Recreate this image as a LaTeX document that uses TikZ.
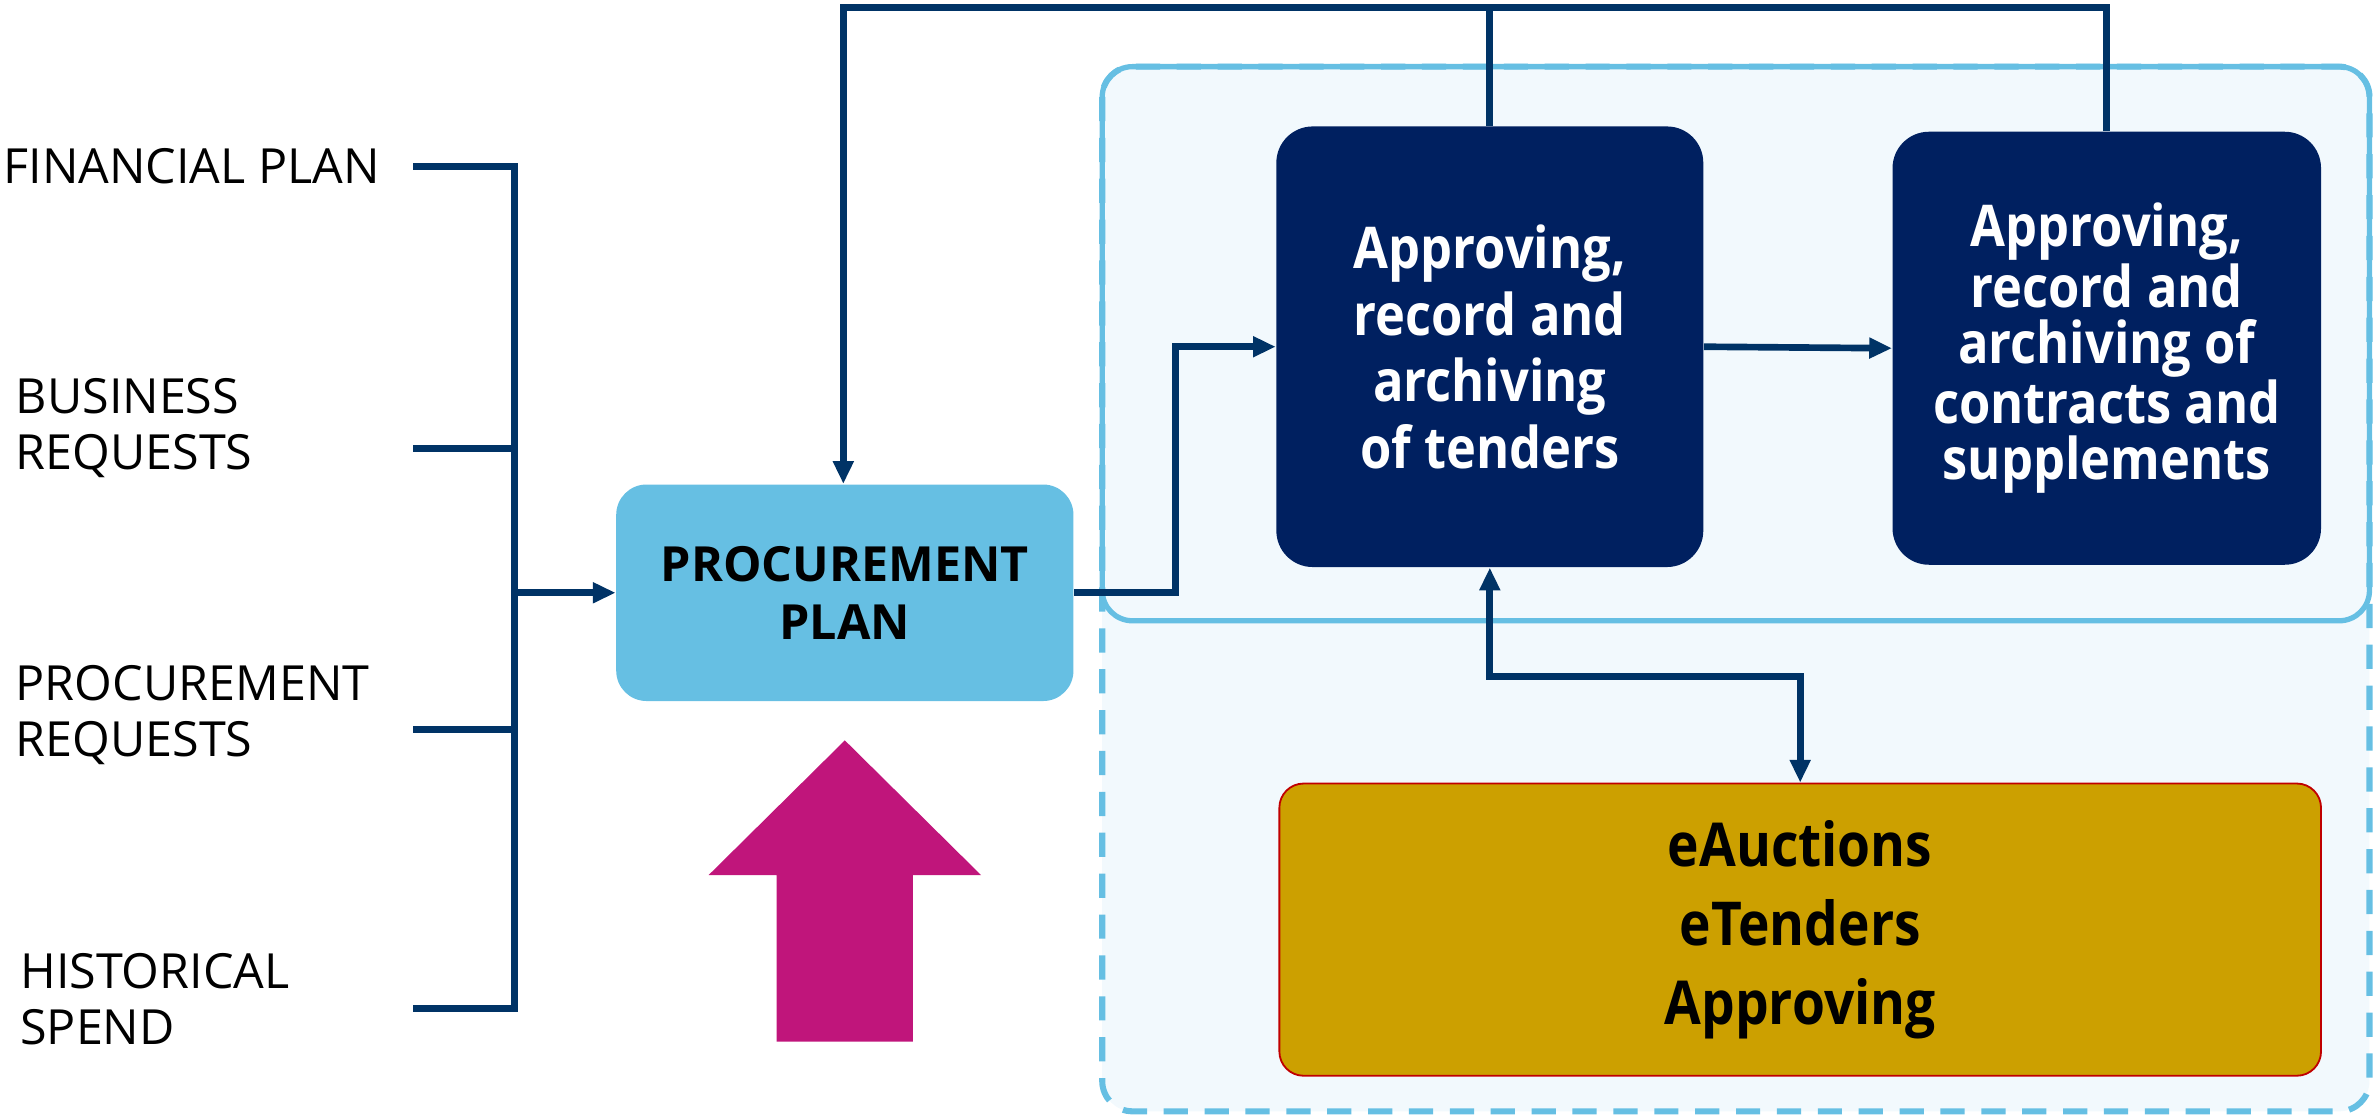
\documentclass[tikz,border=0pt]{standalone}
\usepackage{fontspec}
\setmainfont{Open Sans}
\newfontfamily\boxfont{Open Sans}[FakeStretch=0.88]
\usetikzlibrary{arrows.meta}

\begin{document}
\begin{tikzpicture}[x=0.5pt,y=-0.5pt,
    line/.style={draw=proc_line,line width=2.2pt},
    arr/.style={line,-{Triangle[length=7.5pt,width=6.5pt]}},
    both/.style={line,{Triangle[length=7.5pt,width=6.5pt]}-{Triangle[length=7.5pt,width=6.5pt]}},
    srctext/.style={anchor=west,align=left,inner sep=0pt,font=\fontsize{16}{18.5}\selectfont},
    darkbox/.style={shape=rectangle,rounded corners=12pt,fill=proc_navy,text=white,align=center,inner sep=0pt,font=\boxfont\bfseries\fontsize{19}{22}\selectfont}]
    \definecolor{proc_line}{RGB}{0,51,102}
    \definecolor{proc_navy}{RGB}{0,32,96}
    \definecolor{proc_light}{RGB}{102,191,227}
    \definecolor{proc_bgfill}{RGB}{242,249,253}
    \definecolor{proc_gold}{RGB}{204,160,0}
    \definecolor{proc_red}{RGB}{192,0,0}
    \definecolor{proc_magenta}{RGB}{192,21,123}
    \useasboundingbox (0,0) rectangle (1568,736);
    % container round the approving steps
    \fill[proc_bgfill,rounded corners=10pt] (728,44) rectangle (1565,734);
    \draw[proc_light,line width=2pt,dash pattern=on 8pt off 5.5pt,rounded corners=10pt] (728,44) rectangle (1565,734);
    \draw[proc_light,line width=1.75pt,rounded corners=10pt] (728,44) rectangle (1565,410);
    % inputs
    \node[srctext] (fin) at (2,110) {FINANCIAL PLAN};
    \node[srctext] (bus) at (10,283) {BUSINESS\\REQUESTS};
    \node[srctext] (req) at (10,472) {PROCUREMENT\\REQUESTS};
    \node[srctext] (his) at (13,660) {HISTORICAL\\SPEND};
    \coordinate (t1) at (273,110);
    \coordinate (t2) at (273,296);
    \coordinate (t3) at (273,482);
    \coordinate (t4) at (273,666);
    \coordinate (bar) at (340,0);
    % boxes
    \node[shape=rectangle,rounded corners=10pt,fill=proc_light,minimum width=151pt,minimum height=71.5pt,align=center,font=\bfseries\fontsize{16}{19}\selectfont] (plan) at (558,391.5) {PROCUREMENT\\PLAN};
    \node[darkbox,minimum width=141pt,minimum height=145.5pt] (tend) at (984,229) {Approving,\\record and\\archiving\\of tenders};
    \node[darkbox,minimum width=141.5pt,minimum height=143pt,font=\boxfont\bfseries\fontsize{19}{18.5}\selectfont] (contr) at (1391.5,230) {Approving,\\record and\\archiving of\\contracts and\\supplements};
    \node[shape=rectangle,rounded corners=8pt,draw=proc_red,line width=0.6pt,fill=proc_gold,minimum width=344pt,minimum height=96.5pt,align=center,font=\boxfont\bfseries\fontsize{20}{26}\selectfont] (eauc) at (1189,614) {eAuctions\\eTenders\\Approving};
    % big arrow under the plan
    \fill[proc_magenta] (558,489) -- (648,578) -- (603,578) -- (603,688) -- (513,688) -- (513,578) -- (468,578) -- cycle;
    % connectors
    \draw[line] (t1) -| (t4 -| bar) -- (t4);
    \draw[line] (t2) -- (t2 -| bar);
    \draw[line] (t3) -- (t3 -| bar);
    \draw[arr] (plan.west -| bar) -- (plan.west);
    \draw[arr] (plan.east) -- ++(67,0) |- (tend.west);
    \draw[arr] (tend.east) -- (contr.west);
    \coordinate (topL) at (557,5);
    \draw[arr] (contr.north) |- (topL) -- (topL |- plan.north);
    \draw[line] (tend.north) -- (tend.north |- topL);
    \draw[both] (tend.south) -- ++(0,72) -| (eauc.north);
\end{tikzpicture}
\end{document}
